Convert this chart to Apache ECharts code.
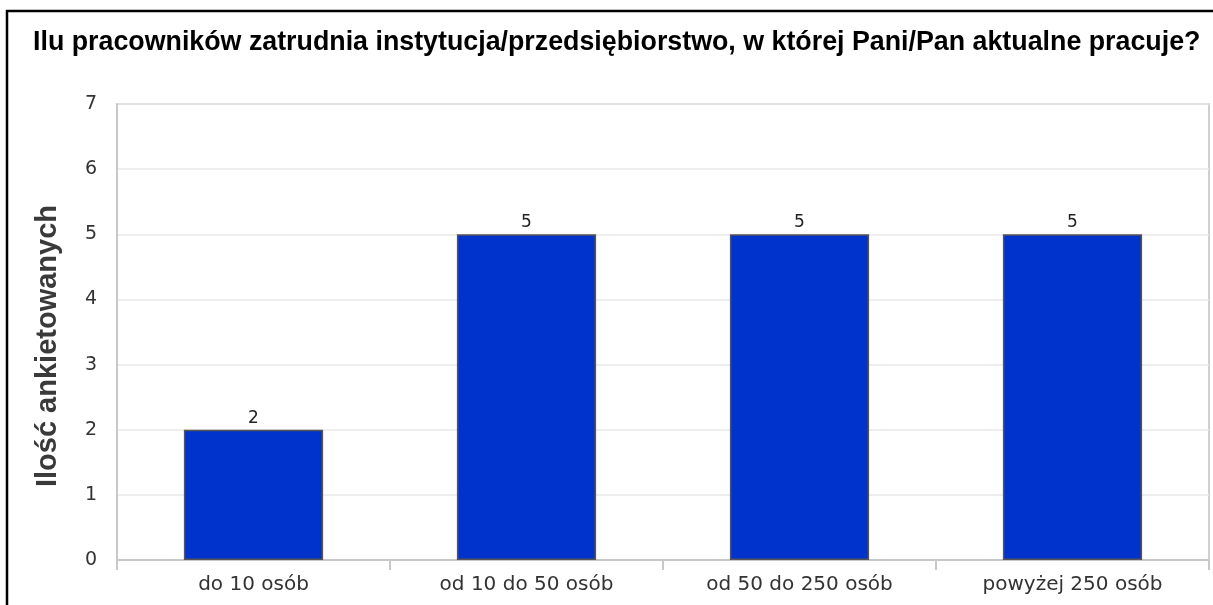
<!DOCTYPE html>
<html>
<head>
<meta charset="utf-8">
<script src="https://cdn.jsdelivr.net/npm/echarts@6/dist/echarts.min.js"></script>
<style>html,body{margin:0;padding:0;background:#fff;}#c{width:1213px;height:605px;}</style>
</head>
<body>
<div id="c"></div>
<script>
const titleText = 'Ilu pracowników zatrudnia instytucja/przedsiębiorstwo, w której Pani/Pan aktualne pracuje?';
const yAxisTitle = 'Ilość ankietowanych';
const categories = ['do 10 osób', 'od 10 do 50 osób', 'od 50 do 250 osób', 'powyżej 250 osób'];
const values = [2, 5, 5, 5];

const chart = echarts.init(document.getElementById('c'), null, {renderer: 'canvas'});
chart.setOption({
  animation: false,
  backgroundColor: '#fff',
  title: {
    text: titleText,
    left: 33,
    top: 29,
    padding: 0,
    textStyle: {fontFamily: 'Liberation Sans, Arial, sans-serif', fontWeight: 'bold', fontSize: 26.8, color: '#000'}
  },
  graphic: [
    {type: 'rect', shape: {x: 7, y: 11, width: 1230, height: 640}, style: {fill: 'none', stroke: '#000', lineWidth: 2.5}, silent: true, z: 100},
    {type: 'text', x: 48, y: 346, rotation: Math.PI / 2,
     style: {text: yAxisTitle, fontFamily: 'Liberation Sans, Arial, sans-serif', fontWeight: 'bold', fontSize: 29, fill: '#3a3a3a', align: 'center', verticalAlign: 'middle'}}
  ],
  grid: {left: 117, right: 4, top: 104, bottom: 45, show: true, borderColor: '#d0d0d0', borderWidth: 2},
  xAxis: {
    type: 'category',
    data: categories,
    axisLine: {show: true, lineStyle: {color: '#c8c8c8', width: 2}},
    axisTick: {show: true, alignWithLabel: false, length: 10, lineStyle: {color: '#c8c8c8', width: 2}},
    axisLabel: {fontFamily: 'DejaVu Sans, sans-serif', fontSize: 20, color: '#333', margin: 15}
  },
  yAxis: {
    type: 'value',
    min: 0, max: 7, interval: 1,
    axisLine: {show: true, lineStyle: {color: '#c8c8c8', width: 2}},
    axisTick: {show: false},
    axisLabel: {fontFamily: 'DejaVu Sans, sans-serif', fontSize: 19, color: '#333', margin: 20},
    splitLine: {show: true, lineStyle: {color: '#e8e8e8', width: 1.5}}
  },
  series: [{
    type: 'bar',
    data: values,
    barWidth: '51%',
    itemStyle: {color: '#0033cc', borderColor: '#555', borderWidth: 1.5},
    label: {show: true, position: 'top', distance: 3, fontFamily: 'DejaVu Sans, sans-serif', fontSize: 17, color: '#222'}
  }]
});
</script>
</body>
</html>
